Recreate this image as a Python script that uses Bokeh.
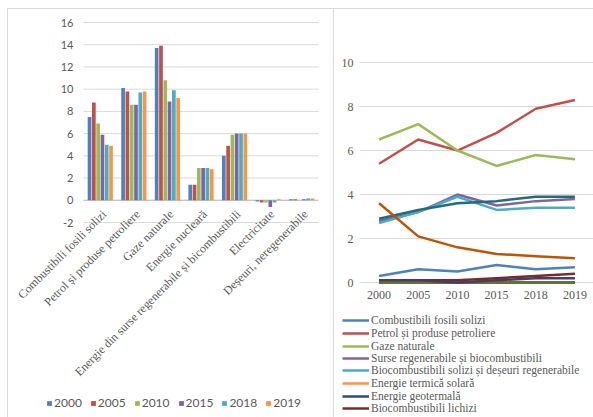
from bokeh.plotting import figure
from bokeh.models import Range1d, ColumnDataSource, Legend, LegendItem
from bokeh.transform import dodge
from bokeh.layouts import row
from bokeh.embed import file_html
from bokeh.resources import INLINE
from bokeh.core.properties import value

# ---------------- data: left bar chart ----------------
categories = ["Combustibili fosili solizi", "Petrol și produse petroliere", "Gaze naturale",
              "Energie nucleară", "Energie din surse regenerabile și bicombustibili",
              "Electricitate", "Deșeuri, neregenerabile"]
bar_years = ["2000", "2005", "2010", "2015", "2018", "2019"]
bars_2000 = [7.5, 10.1, 13.7, 1.4, 4.0, -0.1, 0.1]
bars_2005 = [8.8, 9.8, 13.9, 1.4, 4.9, -0.2, 0.1]
bars_2010 = [6.9, 8.6, 10.8, 2.9, 5.9, -0.2, 0.0]
bars_2015 = [5.9, 8.6, 8.9, 2.9, 6.0, -0.6, 0.1]
bars_2018 = [5.0, 9.7, 9.9, 2.9, 6.0, -0.2, 0.15]
bars_2019 = [4.9, 9.8, 9.2, 2.8, 6.0, 0.1, 0.15]
bar_series = [bars_2000, bars_2005, bars_2010, bars_2015, bars_2018, bars_2019]
bar_colors = ["#4F81BD", "#C0504D", "#9BBB59", "#8064A2", "#4BACC6", "#F79646"]
bar_ticks = [-2, 0, 2, 4, 6, 8, 10, 12, 14, 16]

# ---------------- data: right line chart ----------------
line_years = ["2000", "2005", "2010", "2015", "2018", "2019"]
solid_fossil = [0.3, 0.6, 0.5, 0.8, 0.6, 0.7]
petroleum = [5.4, 6.5, 6.0, 6.8, 7.9, 8.3]
natural_gas = [6.5, 7.2, 6.0, 5.3, 5.8, 5.6]
renewables = [2.8, 3.2, 4.0, 3.5, 3.7, 3.8]
solid_biofuels = [2.7, 3.2, 3.9, 3.3, 3.4, 3.4]
solar_thermal = [0.0, 0.0, 0.0, 0.0, 0.0, 0.0]
geothermal = [0.0, 0.0, 0.0, 0.0, 0.0, 0.0]
liquid_biofuels = [0.1, 0.1, 0.1, 0.2, 0.3, 0.4]
series_9 = [0.0, 0.0, 0.0, 0.0, 0.0, 0.0]
series_10 = [0.1, 0.1, 0.0, 0.1, 0.2, 0.2]
series_11 = [2.9, 3.3, 3.6, 3.7, 3.9, 3.9]
series_12 = [3.6, 2.1, 1.6, 1.3, 1.2, 1.1]
line_series = [solid_fossil, petroleum, natural_gas, renewables, solid_biofuels,
               solar_thermal, geothermal, liquid_biofuels, series_9, series_10,
               series_11, series_12]
line_names = ["Combustibili fosili solizi", "Petrol și produse petroliere", "Gaze naturale",
              "Surse regenerabile și biocombustibili",
              "Biocombustibili solizi și deșeuri regenerabile", "Energie termică solară",
              "Energie geotermală", "Biocombustibili lichizi", None, None, None, None]
line_colors = ["#4F81BD", "#C0504D", "#9BBB59", "#8064A2", "#4BACC6", "#F79646",
               "#2C4D75", "#772C2A", "#5F7530", "#4D3B62", "#276A7C", "#B65708"]
line_ticks = [0, 2, 4, 6, 8, 10]

SANS = "Lato"
SERIF = "Liberation Serif"
TXT = "#595959"
GRID = "#d9d9d9"
BORDER = {"border-left": "1px solid #d9d9d9", "border-top": "1px solid #d9d9d9"}


def bare_figure(w, h, xr, yr, margin):
    p = figure(width=w, height=h, output_backend="svg", toolbar_location=None,
               x_range=xr, y_range=yr, min_border=0, margin=margin, styles=BORDER,
               frame_align=False)
    p.axis.visible = False
    p.grid.visible = False
    p.outline_line_color = None
    return p


# ---------------- left figure (frame = whole figure) ----------------
n_cat = len(categories)
cat_pos = [i + 0.5 for i in range(n_cat)]
p1 = bare_figure(326, 409, Range1d(-2.234, 7.477), Range1d(-19.64, 17.17), (8, 0, 0, 7))

p1.segment(x0=0, x1=n_cat, y0=bar_ticks, y1=bar_ticks, line_color=GRID, line_width=1)
p1.segment(x0=0, x1=n_cat, y0=0, y1=0, line_color="#bfbfbf", line_width=1)
p1.text(x=0, y=bar_ticks, text=[str(t) for t in bar_ticks], x_offset=-10,
        text_align="right", text_baseline="middle", text_font=value(SANS),
        text_font_size=value("11px"), text_color=TXT)

step = 0.128
items1 = []
for j, (yr, vals, col) in enumerate(zip(bar_years, bar_series, bar_colors)):
    src = ColumnDataSource(dict(x=cat_pos, top=vals))
    r = p1.vbar(x=dodge("x", (j - 2.5) * step), top="top", bottom=0,
                width=step * 0.86, source=src, fill_color=col, line_color=None)
    items1.append(LegendItem(label=yr, renderers=[r]))

p1.text(x=cat_pos, y=0, text=categories, angle=45, angle_units="deg",
        x_offset=4, y_offset=12, text_align="right", text_baseline="middle",
        text_font=value(SERIF), text_font_size=value("12px"), text_color=TXT)

leg1 = Legend(items=items1, orientation="horizontal", location=(38, 8),
              glyph_width=6, glyph_height=6, label_standoff=2, spacing=8, padding=0,
              margin=0, border_line_alpha=0, background_fill_alpha=0,
              label_text_font=SANS, label_text_font_size="12px", label_text_color=TXT)
p1.add_layout(leg1)

# ---------------- right figure (frame = whole figure) ----------------
n_yr = len(line_years)
yr_pos = [i + 0.5 for i in range(n_yr)]
p2 = bare_figure(260, 409, Range1d(-0.638, 6.0), Range1d(-6.18, 12.41), (8, 0, 0, 0))

p2.segment(x0=0, x1=n_yr, y0=line_ticks, y1=line_ticks, line_color=GRID, line_width=1)
p2.text(x=0, y=line_ticks, text=[str(t) for t in line_ticks], x_offset=-6,
        text_align="right", text_baseline="middle", text_font=value(SERIF),
        text_font_size=value("12px"), text_color=TXT)
p2.text(x=yr_pos, y=0, text=line_years, y_offset=8, text_align="center",
        text_baseline="top", text_font=value(SERIF), text_font_size=value("12px"),
        text_color=TXT)

items2 = []
for name, vals, col in zip(line_names, line_series, line_colors):
    r = p2.line(x=yr_pos, y=vals, line_color=col, line_width=2.5)
    if name is not None:
        items2.append(LegendItem(label=name, renderers=[r]))

# one single-entry legend per series, stacked with a tight row pitch
row_pitch = 12.5
for k, item in enumerate(items2):
    leg = Legend(items=[item], orientation="vertical",
                 location=(8, round(91.5 - k * row_pitch)),
                 glyph_width=27, glyph_height=10, label_height=10, label_standoff=2,
                 spacing=0, padding=0, margin=0, border_line_alpha=0,
                 background_fill_alpha=0, label_text_font=SERIF,
                 label_text_font_size="11.5px", label_text_color=TXT)
    p2.add_layout(leg)

layout = row(p1, p2)
open("out.html", "w").write(file_html(layout, INLINE))
